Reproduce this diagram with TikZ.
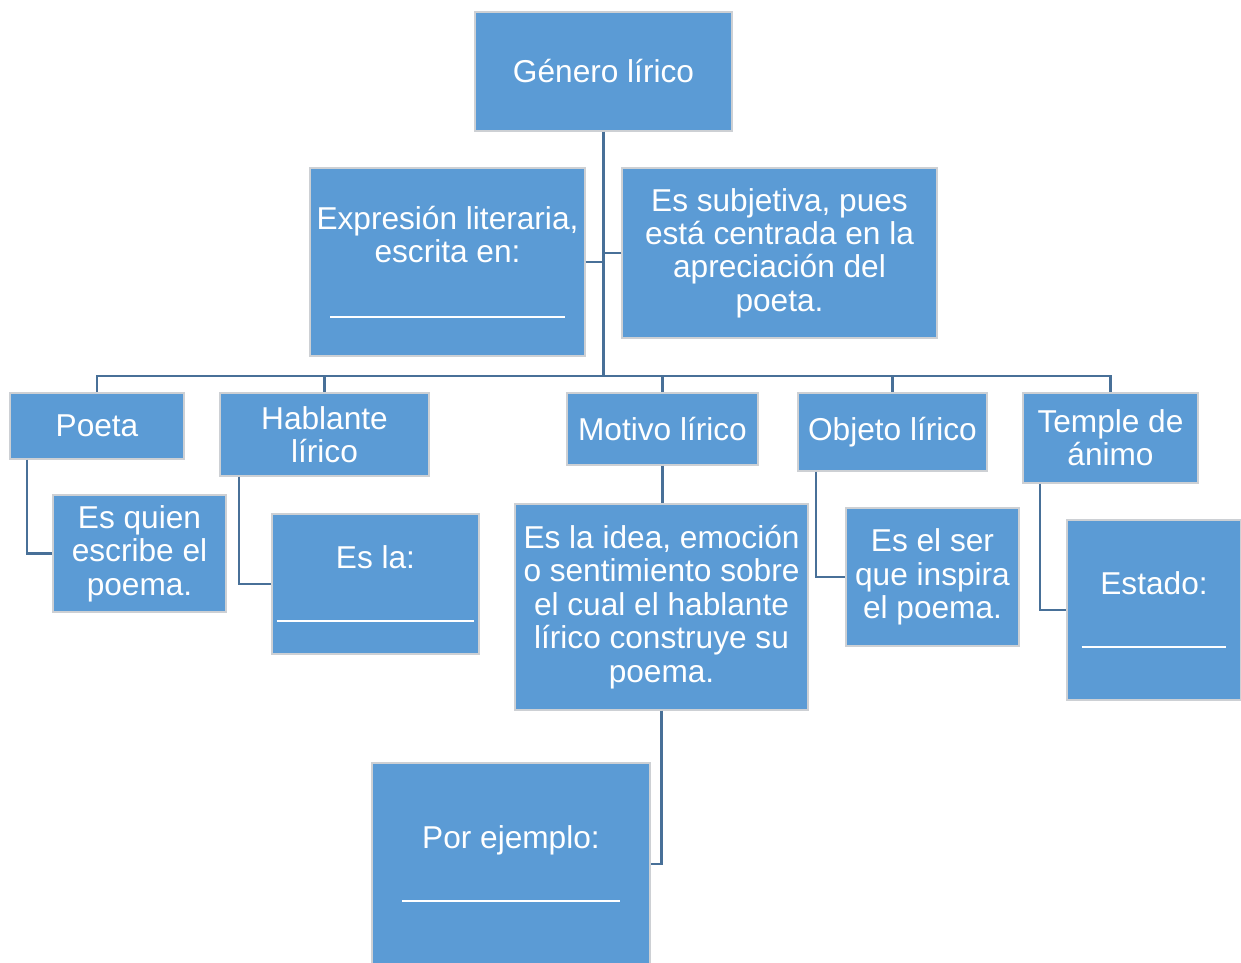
\documentclass[tikz,border=0pt]{standalone}
\usepackage{fontspec}
\setmainfont{Liberation Sans}
\definecolor{boxblue}{RGB}{91,155,213}
\definecolor{boxedge}{RGB}{205,208,212}
\definecolor{linkblue}{RGB}{72,112,152}
\begin{document}
\begin{tikzpicture}[x=0.02cm,y=-0.02cm,
  box/.style={fill=boxblue, draw=boxedge, line width=0.8pt, text=white, align=center, inner sep=2pt, font=\fontsize{18}{19}\selectfont},
  link/.style={draw=linkblue, line width=1.3pt}]
\clip (0,0) rectangle (1241,963);
\fill[white] (0,0) rectangle (1241,963);

\node[box, minimum width=5.14cm, minimum height=2.38cm] (gen) at (603.5,71.5) {Género lírico};
\node[box, minimum width=5.5cm, minimum height=3.76cm] (expr) at (447.5,262) {Expresión literaria,\\escrita en:\\[0.45cm]\rule{4.7cm}{1.1pt}};
\node[box, minimum width=6.3cm, minimum height=3.4cm] (subj) at (779.5,253) {Es subjetiva, pues\\está centrada en la\\apreciación del\\poeta.};

\node[box, minimum width=3.48cm, minimum height=1.32cm] (poeta) at (97,426) {Poeta};
\node[box, minimum width=4.18cm, minimum height=1.66cm] (habl) at (324.5,434.5) {Hablante\\lírico};
\node[box, minimum width=3.82cm, minimum height=1.44cm] (motivo) at (662.5,429) {Motivo lírico};
\node[box, minimum width=3.78cm, minimum height=1.56cm] (objeto) at (892.5,432) {Objeto lírico};
\node[box, minimum width=3.5cm, minimum height=1.8cm] (temple) at (1110.5,438) {Temple de\\ánimo};

\node[box, minimum width=3.46cm, minimum height=2.34cm] (quien) at (139.5,553.5) {Es quien\\escribe el\\poema.};
\node[box, minimum width=4.14cm, minimum height=2.8cm] (esla) at (375.5,584) {Es la:\\[0.4cm]\rule{3.96cm}{1.1pt}};
\node[box, minimum width=5.86cm, minimum height=4.12cm] (idea) at (661.5,607) {Es la idea, emoción\\o sentimiento sobre\\el cual el hablante\\lírico construye su\\poema.};
\node[box, minimum width=3.46cm, minimum height=2.76cm] (ser) at (932.5,577) {Es el ser\\que inspira\\el poema.};
\node[box, minimum width=3.48cm, minimum height=3.6cm] (estado) at (1154,610) {Estado:\\[0.4cm]\rule{2.9cm}{1.1pt}};
\node[box, minimum width=5.56cm, minimum height=4.04cm] (ejemplo) at (511,864) {Por ejemplo:\\[0.4cm]\rule{4.36cm}{1.1pt}};

\coordinate (bar) at (603.5,376);
\draw[link] (gen.south) -- (bar);
\draw[link] (expr.east) -- (expr.east -| gen.south);
\draw[link] (subj.west) -- (subj.west -| gen.south);
\draw[link] (bar) -| (poeta.north);
\draw[link] (bar) -| (habl.north);
\draw[link] (bar) -| (motivo.north);
\draw[link] (bar) -| (objeto.north);
\draw[link] (bar) -| (temple.north);

\draw[link] ([xshift=0.36cm]poeta.south west) |- (quien.west);
\draw[link] ([xshift=0.4cm]habl.south west) |- (esla.west);
\draw[link] (motivo.south) -- (motivo.south |- idea.north);
\draw[link] ([xshift=0.38cm]objeto.south west) |- (ser.west);
\draw[link] ([xshift=0.36cm]temple.south west) |- (estado.west);
\draw[link] (idea.south) |- (ejemplo.east);
\end{tikzpicture}
\end{document}
